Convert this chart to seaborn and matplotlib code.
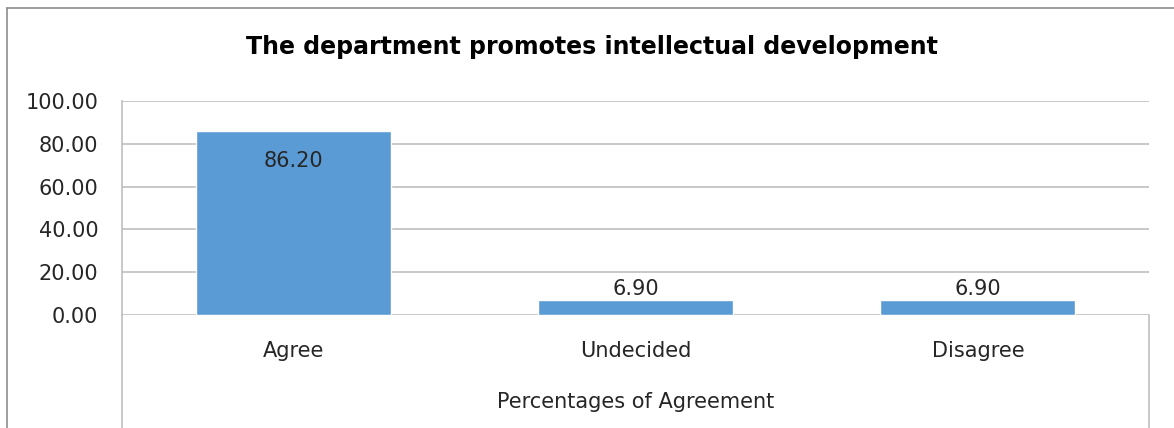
import matplotlib
matplotlib.use("Agg")
import matplotlib.pyplot as plt
from matplotlib.lines import Line2D
import seaborn as sns
import pandas as pd

categories = ["Agree", "Undecided", "Disagree"]
values = [86.20, 6.90, 6.90]
yticks = [0, 20, 40, 60, 80, 100]
title = "The department promotes intellectual development"
xlabel = "Percentages of Agreement"

sns.set_theme(style="white")
plt.rcParams["font.family"] = ["DejaVu Sans"]

W, H = 1174, 428
fig = plt.figure(figsize=(W / 100, H / 100), dpi=100)
ax = fig.add_axes([122 / W, (H - 315) / H, (1149 - 122) / W, (315 - 101) / H])

df = pd.DataFrame({"cat": categories, "val": values})
sns.barplot(data=df, x="cat", y="val", color="#5B9BD5", saturation=1,
            width=0.57, ax=ax, order=categories)

ax.set_xlim(-0.5, len(categories) - 0.5)
ax.set_ylim(0, 100)
ax.set_yticks(yticks)
ax.set_yticklabels([f"{t:.2f}" for t in yticks])
ax.yaxis.grid(True, color="#BFBFBF", linewidth=1.2)
ax.set_axisbelow(True)
for s in ["top", "right", "bottom"]:
    ax.spines[s].set_visible(False)
ax.spines["left"].set_color("#BFBFBF")
ax.spines["left"].set_linewidth(1.2)

txt = "#262626"
ax.tick_params(axis="y", length=0, pad=17, labelsize=15, labelcolor=txt)
ax.tick_params(axis="x", length=0, pad=19, labelsize=15, labelcolor=txt)
ax.set_ylabel("")
ax.set_xlabel(xlabel, fontsize=15, color=txt, va="center")
ax.xaxis.set_label_coords(0.5, -0.405)

for i, v in enumerate(values):
    if v > 50:
        ax.annotate(f"{v:.2f}", (i, v), xytext=(0, -30), textcoords="offset pixels",
                    ha="center", va="center", fontsize=15, color=txt)
    else:
        ax.annotate(f"{v:.2f}", (i, v), xytext=(0, 11), textcoords="offset pixels",
                    ha="center", va="center", fontsize=15, color=txt)

# extended category-axis boundary lines (Excel style)
ax.plot([-0.5, -0.5], [0, -53.5], color="#BFBFBF", lw=1.2, clip_on=False)
ax.plot([2.5, 2.5], [0, -53.5], color="#BFBFBF", lw=1.2, clip_on=False)

# chart outer border (cropped on right and bottom)
bx, by = 6.5 / W, 1 - 8 / H
fig.add_artist(Line2D([bx, 1], [by, by], color="#8C8C8C", lw=1.2))
fig.add_artist(Line2D([bx, bx], [0, by], color="#8C8C8C", lw=1.2))

fig.text(0.504, 1 - 47 / H, title, ha="center", va="center",
         fontsize=17, fontweight="bold", color="black")

fig.savefig("out.png", dpi=100, facecolor="white")
